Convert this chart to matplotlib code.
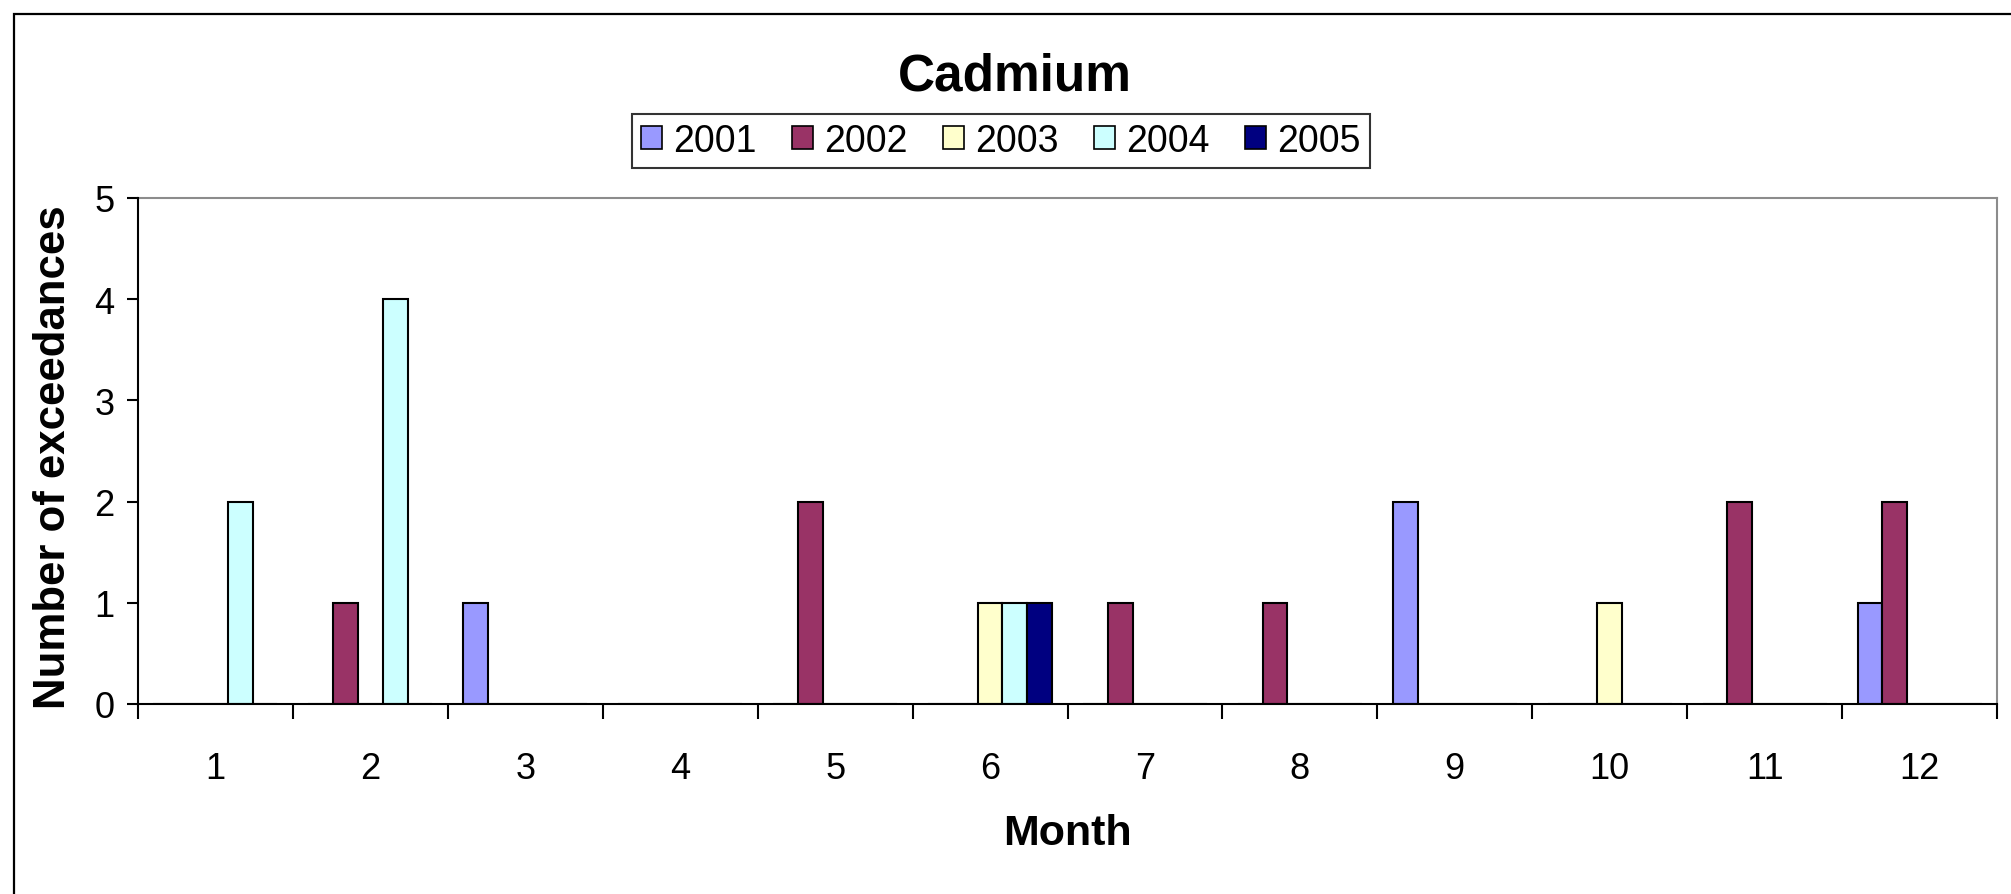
import numpy as np
import matplotlib
matplotlib.use("Agg")
from matplotlib import pyplot as plt
from matplotlib.patches import Rectangle, Patch

# data
months = list(range(1, 13))
years = ["2001", "2002", "2003", "2004", "2005"]
counts_2001 = [0, 0, 1, 0, 0, 0, 0, 0, 2, 0, 0, 1]
counts_2002 = [0, 1, 0, 0, 2, 0, 1, 1, 0, 0, 2, 2]
counts_2003 = [0, 0, 0, 0, 0, 1, 0, 0, 0, 1, 0, 0]
counts_2004 = [2, 4, 0, 0, 0, 1, 0, 0, 0, 0, 0, 0]
counts_2005 = [0, 0, 0, 0, 0, 1, 0, 0, 0, 0, 0, 0]
colors = ["#9999FF", "#993366", "#FFFFCC", "#CCFFFF", "#000080"]

series = [counts_2001, counts_2002, counts_2003, counts_2004, counts_2005]

W, H = 2011, 895
fig = plt.figure(figsize=(W / 100, H / 100), dpi=100)
fig.patch.set_facecolor("white")

bold = ["Liberation Sans", "DejaVu Sans"]
thin = ["Liberation Sans", "DejaVu Sans"]

# outer chart frame (runs off right and bottom edge)
fig.patches.append(Rectangle((14 / W, -0.1), 1.2, 1.1 - 15 / H, transform=fig.transFigure,
                             fill=False, edgecolor="black", linewidth=1.6))

ax = fig.add_axes([138 / W, 1 - 705 / H, (1997 - 138) / W, (705 - 199) / H])

x = np.arange(1, 13)
bw = 0.16
for i, (vals, c) in enumerate(zip(series, colors)):
    ax.bar(x + (i - 2) * bw, vals, width=bw, color=c, edgecolor="black", linewidth=1.5, zorder=3)

ax.set_xlim(0.5, 12.5)
ax.set_ylim(0, 5)
ax.set_yticks(range(0, 6))
ax.set_yticklabels([str(v) for v in range(0, 6)], family=thin, fontsize=26)
ax.tick_params(axis="y", length=8, width=1.5, pad=9, direction="out")

ax.set_xticks(np.arange(0.5, 13, 1))
ax.set_xticklabels([])
ax.set_xticks(x, minor=True)
ax.set_xticklabels([str(m) for m in months], minor=True, family=thin, fontsize=26)
ax.tick_params(axis="x", which="major", length=11, width=1.5, direction="out")
ax.tick_params(axis="x", which="minor", length=0, pad=34)

for s in ["left", "bottom"]:
    ax.spines[s].set_color("black")
    ax.spines[s].set_linewidth(1.5)
for s in ["top", "right"]:
    ax.spines[s].set_color("#8c8c8c")
    ax.spines[s].set_linewidth(1.5)
ax.spines["left"].set_zorder(4)
ax.spines["bottom"].set_zorder(4)

fig.text(1015 / W, 1 - 77 / H, "Cadmium", ha="center", va="center",
         family=bold, fontweight="bold", fontsize=37)
fig.text(1067 / W, 1 - 834 / H, "Month", ha="center", va="center",
         family=bold, fontweight="bold", fontsize=31)
fig.text(54 / W, 1 - 457 / H, "Number of exceedances", ha="center", va="center",
         rotation=90, family=bold, fontweight="bold", fontsize=31.5)

handles = [Patch(facecolor=c, edgecolor="black", linewidth=1.2) for c in colors]
leg = fig.legend(handles, years, loc="center", bbox_to_anchor=(1001 / W, 1 - 142 / H),
                 ncol=5, frameon=True, fancybox=False, prop={"family": thin, "size": 27},
                 handlelength=0.55, handleheight=0.55, handletextpad=0.3,
                 columnspacing=0.95, borderpad=0.25, borderaxespad=0)
leg.get_frame().set_edgecolor("black")
leg.get_frame().set_linewidth(1.5)

fig.savefig("out.png", dpi=100)
